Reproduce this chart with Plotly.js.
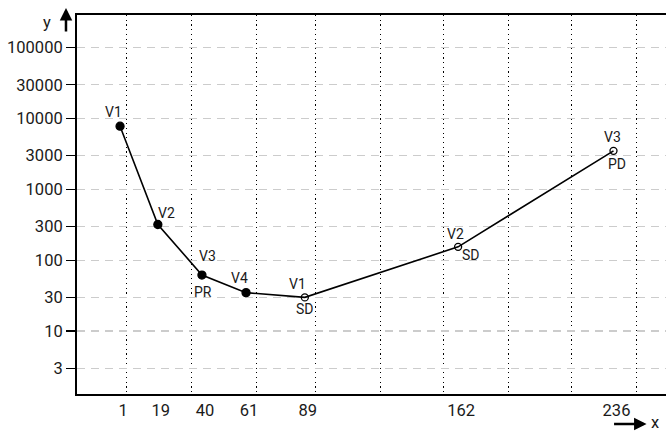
<!DOCTYPE html>
<html>
<head>
<meta charset="utf-8">
<script src="https://cdn.plot.ly/plotly-3.0.1.min.js"></script>
<style>html,body{margin:0;padding:0;background:#fff;}#chart{width:666px;height:434px;}</style>
</head>
<body>
<div id="chart"></div>
<script>
// Data
const days = [1, 19, 40, 61, 89, 162, 236];
const values = [7800, 320, 62, 35, 30, 155, 3500];
const upperLabels = ['V1', 'V2', 'V3', 'V4', 'V1', 'V2', 'V3'];
const lowerLabels = ['', '', 'PR', '', 'SD', 'SD', 'PD'];
const filled = [true, true, true, true, false, false, false];
const xTickVals = [1, 19, 40, 61, 89, 162, 236];
const monthBoundaries = [4, 35, 66, 94, 125, 155, 186, 216, 247];
const yTickVals = [3, 10, 30, 100, 300, 1000, 3000, 10000, 30000, 100000];

// label pixel offsets (style only)
const upperShift = [[-7, 14], [9, 12], [6, 19], [-7, 15], [-7, 13], [-3, 13], [-1, 14]];
const lowerShift = [[0, 0], [0, 0], [1, -17], [0, 0], [0, -12], [13, -8], [3, -13]];

const FONT = 'Roboto, "Liberation Sans", sans-serif';
const TXT = '#1a1a1a';

const lineTrace = {
  x: days, y: values, type: 'scatter', mode: 'lines',
  line: {color: '#000', width: 1.6},
  hoverinfo: 'skip', showlegend: false
};
const markerTrace = {
  x: days, y: values, type: 'scatter', mode: 'markers',
  marker: {
    symbol: filled.map(f => f ? 'circle' : 'circle-open'),
    size: filled.map(f => f ? 8 : 7),
    color: '#000', opacity: 1,
    line: {color: '#000', width: 1.3}
  },
  showlegend: false
};

const pointAnnotations = [];
days.forEach((d, i) => {
  if (upperLabels[i]) pointAnnotations.push({
    x: d, y: Math.log10(values[i]), xref: 'x', yref: 'y', text: upperLabels[i], showarrow: false,
    xanchor: 'center', yanchor: 'middle', xshift: upperShift[i][0], yshift: upperShift[i][1],
    font: {family: FONT, size: 14, color: TXT}
  });
  if (lowerLabels[i]) pointAnnotations.push({
    x: d, y: Math.log10(values[i]), xref: 'x', yref: 'y', text: lowerLabels[i], showarrow: false,
    xanchor: 'center', yanchor: 'middle', xshift: lowerShift[i][0], yshift: lowerShift[i][1],
    font: {family: FONT, size: 14, color: TXT}
  });
});

const layout = {
  width: 666, height: 434,
  margin: {l: 77, r: 0, t: 15, b: 40},
  paper_bgcolor: '#fff', plot_bgcolor: '#fff',
  font: {family: FONT, size: 16.5, color: TXT},
  showlegend: false,
  xaxis: {
    range: [-19.5, 261],
    tickmode: 'array', tickvals: xTickVals, ticktext: xTickVals.map(String),
    ticks: '', showgrid: false, zeroline: false,
    showline: true, linecolor: '#000', linewidth: 2, mirror: true,
    ticklabelshift: 3,
    tickfont: {family: FONT, size: 16.5, color: TXT},
    minor: {
      tickmode: 'array', tickvals: monthBoundaries,
      showgrid: true, gridcolor: '#000', gridwidth: 1.2, griddash: '1.2px,3.5px', ticks: ''
    }
  },
  yaxis: {
    type: 'log',
    range: [0.114, 5.461],
    tickmode: 'array', tickvals: yTickVals, ticktext: yTickVals.map(String),
    ticks: 'outside', ticklen: 9, tickwidth: 1.5, tickcolor: '#000',
    showgrid: true, gridcolor: '#cccccc', gridwidth: 1.5, griddash: '8px,6px',
    zeroline: false,
    showline: true, linecolor: '#000', linewidth: 2, mirror: false,
    tickfont: {family: FONT, size: 16.5, color: TXT}
  },
  annotations: pointAnnotations.concat([
    {xref: 'paper', yref: 'paper', x: -0.0187, y: 1.0185, text: '', showarrow: true,
     ax: 0, ay: 25, arrowhead: 2, arrowsize: 1, arrowwidth: 2.5, arrowcolor: '#000'},
    {xref: 'paper', yref: 'paper', x: -0.051, y: 0.981, text: 'y', showarrow: false,
     xanchor: 'center', yanchor: 'middle', font: {family: FONT, size: 16.5, color: TXT}},
    {xref: 'paper', yref: 'paper', x: 0.967, y: -0.079, text: '', showarrow: true,
     ax: -34, ay: 0, arrowhead: 2, arrowsize: 1, arrowwidth: 2.5, arrowcolor: '#000'},
    {xref: 'paper', yref: 'paper', x: 0.981, y: -0.074, text: 'x', showarrow: false,
     xanchor: 'center', yanchor: 'middle', font: {family: FONT, size: 16.5, color: TXT}}
  ])
};

Plotly.newPlot('chart', [lineTrace, markerTrace], layout, {staticPlot: true, displayModeBar: false});
</script>
</body>
</html>
